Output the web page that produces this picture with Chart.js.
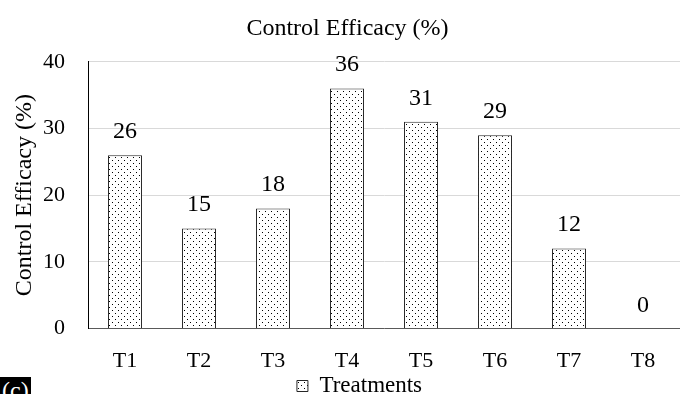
<!DOCTYPE html>
<html>
<head>
<meta charset="utf-8">
<script src="https://cdn.jsdelivr.net/npm/chart.js@4/dist/chart.umd.min.js"></script>
<style>
  html, body { margin: 0; padding: 0; background: #fff; }
  #wrap { position: relative; width: 680px; height: 394px; overflow: hidden; }
  #tag { position: absolute; left: 0; top: 377px; background: #000; color: #fff;
         font: 24px "Liberation Serif", serif; padding: 0 2px; line-height: 26px; }
</style>
</head>
<body>
<div id="wrap">
  <canvas id="chart" width="680" height="394"></canvas>
  <div id="tag">(c)</div>
</div>
<script>
const treatments = ["T1", "T2", "T3", "T4", "T5", "T6", "T7", "T8"];
const efficacy = [26, 15, 18, 36, 31, 29, 12, 0];
const seriesName = "Treatments";
const chartTitle = "Control Efficacy (%)";
const yTitle = "Control Efficacy (%)";

const serif = "'Liberation Serif', 'Times New Roman', serif";

// dotted fill like the Excel pattern
function dotPattern() {
  const c = document.createElement("canvas");
  c.width = 6; c.height = 6;
  const g = c.getContext("2d");
  g.fillStyle = "#fff";
  g.fillRect(0, 0, 6, 6);
  g.fillStyle = "#000";
  g.fillRect(1, 1, 1, 1);
  g.fillRect(4, 4, 1, 1);
  return g.createPattern(c, "repeat");
}
const pat = dotPattern();

const valueLabels = {
  id: "valueLabels",
  afterLayout(chart) {
    // nudge the legend a bit right, like the original
    if (chart.legend) { chart.legend.left += 12; chart.legend.right += 12; }
  },
  afterDatasetsDraw(chart) {
    const ctx = chart.ctx;
    const meta = chart.getDatasetMeta(0);
    ctx.save();
    ctx.font = "24px " + serif;
    ctx.fillStyle = "#000";
    ctx.textAlign = "center";
    ctx.textBaseline = "alphabetic";
    meta.data.forEach((bar, i) => {
      ctx.fillText(String(efficacy[i]), bar.x, bar.y - 17);
    });
    ctx.restore();
  }
};

new Chart(document.getElementById("chart"), {
  type: "bar",
  data: {
    labels: treatments,
    datasets: [{
      label: seriesName,
      data: efficacy,
      backgroundColor: pat,
      borderColor: "#262626",
      borderWidth: 1,
      barPercentage: 0.46,
      categoryPercentage: 1
    }]
  },
  options: {
    responsive: false,
    animation: false,
    layout: { padding: { left: 10, right: -5, top: 0, bottom: -13.5 } },
    plugins: {
      title: {
        display: true,
        text: chartTitle,
        color: "#000",
        font: { family: serif, size: 24, weight: "normal" },
        padding: { top: 14, bottom: 19 }
      },
      legend: {
        position: "bottom",
        labels: {
          color: "#000",
          font: { family: serif, size: 23 },
          boxWidth: 11,
          boxHeight: 11,
          padding: 2
        }
      },
      tooltip: { enabled: false }
    },
    scales: {
      x: {
        grid: { display: false },
        border: { color: "#595959", width: 1 },
        ticks: { color: "#000", font: { family: serif, size: 22 }, padding: 12 },
        afterFit(scale) { scale.height = 44; }
      },
      y: {
        min: 0,
        max: 40,
        ticks: { stepSize: 10, color: "#000", font: { family: serif, size: 22 }, padding: 23 },
        grid: { color: "#d9d9d9", drawTicks: false },
        border: { color: "#000", width: 1 },
        title: {
          display: true,
          text: yTitle,
          color: "#000",
          font: { family: serif, size: 24 },
          padding: { top: 0, bottom: 4 }
        },
        afterFit(scale) { scale.width = 78; }
      }
    }
  },
  plugins: [valueLabels]
});
</script>
</body>
</html>
